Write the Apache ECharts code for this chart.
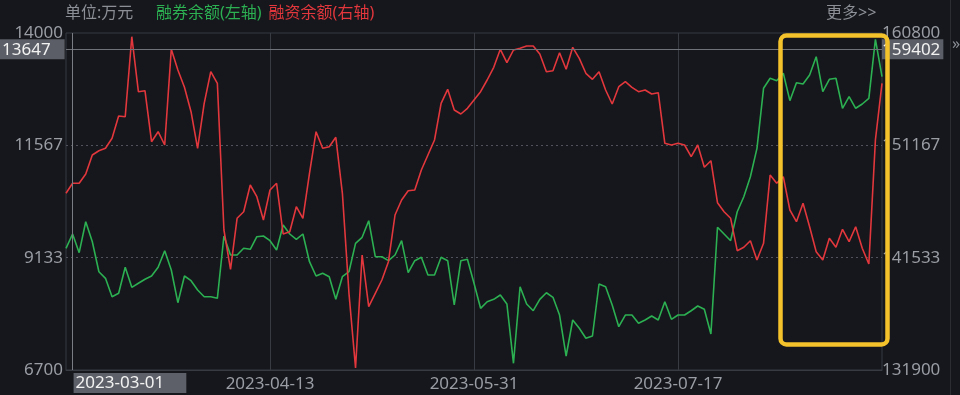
<!DOCTYPE html>
<html><head><meta charset="utf-8">
<script src="https://cdn.jsdelivr.net/npm/echarts@6/dist/echarts.min.js"></script>
<style>html,body{margin:0;padding:0;background:#15171c;}#c{width:960px;height:395px;}</style>
</head><body><div id="c"></div>
<script>
// ---- data ----
const startDate = '2023-02-28';
const pointCount = 125;
const holidays = ['2023-04-05','2023-05-01','2023-05-02','2023-05-03','2023-06-22','2023-06-23'];
const xTickLabels = ['2023-04-13','2023-05-31','2023-07-17'];
const leftTicks = [6700, 9133, 11567, 14000];
const rightTicks = [131900, 141533, 151167, 160800];
const seriesNames = ['融券余额(左轴)', '融资余额(右轴)'];
// 融券余额 (left axis, 万元)
const shortBalance = [9336,9646,9241,9912,9479,8829,8686,8288,8361,8925,
 8491,8578,8665,8736,8925,9284,8866,8158,8736,8634,
 8433,8288,8288,8253,9603,9191,9191,9336,9314,9587,
 9603,9501,9299,9841,9646,9531,9646,9046,8736,8795,
 8721,8231,8721,8829,9444,9574,9934,9154,9154,9068,
 9191,9501,8808,9068,9141,8758,8758,9141,9068,8108,
 9068,9098,8578,8036,8179,8231,8325,8130,6845,8504,
 8130,7984,8231,8374,8275,7891,7003,7783,7603,7387,
 7436,8563,8504,8108,7638,7891,7891,7712,7783,7870,
 7783,8179,7798,7891,7891,7984,8086,8015,7480,9791,
 9646,9501,10129,10454,10887,11502,12802,13019,12967,13127,
 12534,12923,12895,13090,13487,12728,12997,13019,12369,12620,
 12369,12462,12585,13864,13053];
// 融资余额 (right axis, 万元)
const marginBalance = [147053,147911,147911,148708,150338,150706,150912,151770,153682,153622,
 160483,155766,155852,151478,152336,151195,159402,157627,156143,154051,
 150912,154771,157481,156486,143906,140536,144909,145475,147765,146762,
 144763,147336,147911,143563,143760,145904,144909,148768,152336,150912,
 151049,151855,147053,138477,132071,141762,137328,138477,139618,141187,
 145192,146479,147276,147336,149051,150338,151624,154771,155972,154197,
 153854,154342,155054,155766,156769,157858,159402,158253,159342,159488,
 159685,159685,158999,157481,157567,159111,157687,159574,158630,157344,
 156830,157481,155912,154711,156195,156624,156143,155766,155912,155569,
 155680,151341,151195,151341,151195,150192,151195,149283,149849,146247,
 145475,144909,142131,142422,142988,141333,142765,148622,147911,148477,
 145621,144618,146196,144189,142045,141333,143194,142422,143966,142903,
 144189,142337,140990,151624,156486];
const crossIndex = 1;
const crossLeft = 13647;
const crossRight = 159402;

// trading-day categories
function tradingDays(start, count, hol) {
  const out = []; const d = new Date(start + 'T00:00:00Z');
  while (out.length < count) {
    const s = d.toISOString().slice(0, 10);
    const wd = d.getUTCDay();
    if (wd !== 0 && wd !== 6 && hol.indexOf(s) < 0) out.push(s);
    d.setUTCDate(d.getUTCDate() + 1);
  }
  return out;
}
const categories = tradingDays(startDate, pointCount, holidays);

const GREEN = '#2cb052', RED = '#e2373c';
const GRID_C = '#383b42', LABEL_C = '#9a9da4';
const FONT = "'Noto Sans','Noto Sans CJK SC',sans-serif";

const chart = echarts.init(document.getElementById('c'), null, {renderer: 'canvas'});
const option = {
  backgroundColor: '#15171c',
  animation: false,
  textStyle: {fontFamily: FONT},
  title: [
    {text: '单位:万元', left: 65, top: 5, padding: 0, textStyle: {color: '#8c8f96', fontSize: 16, fontWeight: 'normal', fontFamily: FONT}},
    {text: '更多>>', left: 826, top: 5, padding: 0, textStyle: {color: '#8c8f96', fontSize: 16, fontWeight: 'normal', fontFamily: FONT}}
  ],
  legend: {
    left: 150, top: 5, padding: 0, itemWidth: 0, itemHeight: 0, itemGap: 1,
    textStyle: {fontSize: 16, fontFamily: FONT},
    data: [
      {name: seriesNames[0], textStyle: {color: GREEN}},
      {name: seriesNames[1], textStyle: {color: RED}}
    ]
  },
  grid: {left: 66, right: 78, top: 33, bottom: 25, show: true, borderColor: GRID_C, borderWidth: 1, containLabel: false},
  xAxis: {
    type: 'category', data: categories, boundaryGap: false,
    axisLine: {show: true, lineStyle: {color: GRID_C}},
    axisTick: {show: false},
    axisLabel: {color: LABEL_C, fontSize: 17, margin: 6, fontFamily: FONT,
      interval: (i, name) => xTickLabels.indexOf(name) >= 0},
    splitLine: {show: true, lineStyle: {color: GRID_C, width: 1},
      interval: (i, name) => xTickLabels.indexOf(name) >= 0},
    axisPointer: {show: true, status: 'show', value: crossIndex, type: 'line', triggerTooltip: false,
      lineStyle: {color: '#7a7d84', width: 1, type: 'solid'}, label: {show: false}}
  },
  yAxis: [
    {
      type: 'value', min: leftTicks[0], max: leftTicks[leftTicks.length - 1], position: 'left',
      axisLine: {show: false}, axisTick: {show: false, customValues: leftTicks},
      axisLabel: {color: LABEL_C, fontSize: 17, margin: 3, fontFamily: FONT, customValues: leftTicks,
        formatter: v => String(Math.round(v))},
      splitLine: {show: false},
      axisPointer: {show: true, status: 'show', value: crossLeft, type: 'line', triggerTooltip: false,
        lineStyle: {color: '#6f7279', width: 1, type: 'solid'},
        label: {show: true, margin: 2, formatter: p => String(Math.round(p.value)), backgroundColor: '#5b5e66',
          color: '#f2f2f2', fontSize: 17, fontFamily: FONT, padding: [2, 14, 1, 2], borderRadius: 0}}
    },
    {
      type: 'value', min: rightTicks[0], max: rightTicks[rightTicks.length - 1], position: 'right',
      axisLine: {show: false}, axisTick: {show: false, customValues: rightTicks},
      axisLabel: {color: LABEL_C, fontSize: 17, margin: 0, fontFamily: FONT, customValues: rightTicks,
        formatter: v => String(Math.round(v))},
      splitLine: {show: false},
      axisPointer: {show: true, status: 'show', value: crossRight, type: 'line', triggerTooltip: false,
        lineStyle: {color: '#6f7279', width: 1, type: 'solid'},
        label: {show: true, margin: 0, formatter: p => String(Math.round(p.value)), backgroundColor: '#5b5e66',
          color: '#f2f2f2', fontSize: 17, fontFamily: FONT, padding: [2, 3, 1, 0], borderRadius: 0}}
    }
  ],
  series: [
    {name: seriesNames[0], type: 'line', yAxisIndex: 0, data: shortBalance, showSymbol: false, symbol: 'none',
      lineStyle: {color: GREEN, width: 1.6}, itemStyle: {color: GREEN},
      markLine: {silent: true, symbol: 'none', label: {show: false}, z: 1,
        lineStyle: {color: '#50535b', type: [2, 3], width: 1},
        data: leftTicks.slice(1, -1).map(v => ({yAxis: v}))}},
    {name: seriesNames[1], type: 'line', yAxisIndex: 1, data: marginBalance, showSymbol: false, symbol: 'none',
      lineStyle: {color: RED, width: 1.6}, itemStyle: {color: RED}}
  ]
};
chart.setOption(option);

// crosshair date label and highlight annotation
const px = chart.convertToPixel({xAxisIndex: 0}, categories[crossIndex]);
const pyBot = chart.convertToPixel({yAxisIndex: 1}, rightTicks[0]);
chart.setOption({
  graphic: [
    {type: 'text', left: px + 1, top: pyBot + 3, z: 150,
      style: {text: categories[crossIndex], fill: '#f2f2f2', font: "17px 'Noto Sans',sans-serif",
        backgroundColor: '#5d6068', padding: [2, 22, 1, 2]}},
    {type: 'rect', z: 200, shape: {x: 780.5, y: 35.5, width: 107, height: 309, r: 6},
      style: {fill: 'none', stroke: '#f4c22b', lineWidth: 4.5}},
    {type: 'line', z: 10, shape: {x1: 950.5, y1: 0, x2: 950.5, y2: 395}, style: {stroke: '#2b2d33', lineWidth: 1}},
    {type: 'text', left: 952, top: 36, z: 10, style: {text: '»', fill: '#8c8f96', font: "16px 'Noto Sans',sans-serif"}}
  ]
});
</script></body></html>
